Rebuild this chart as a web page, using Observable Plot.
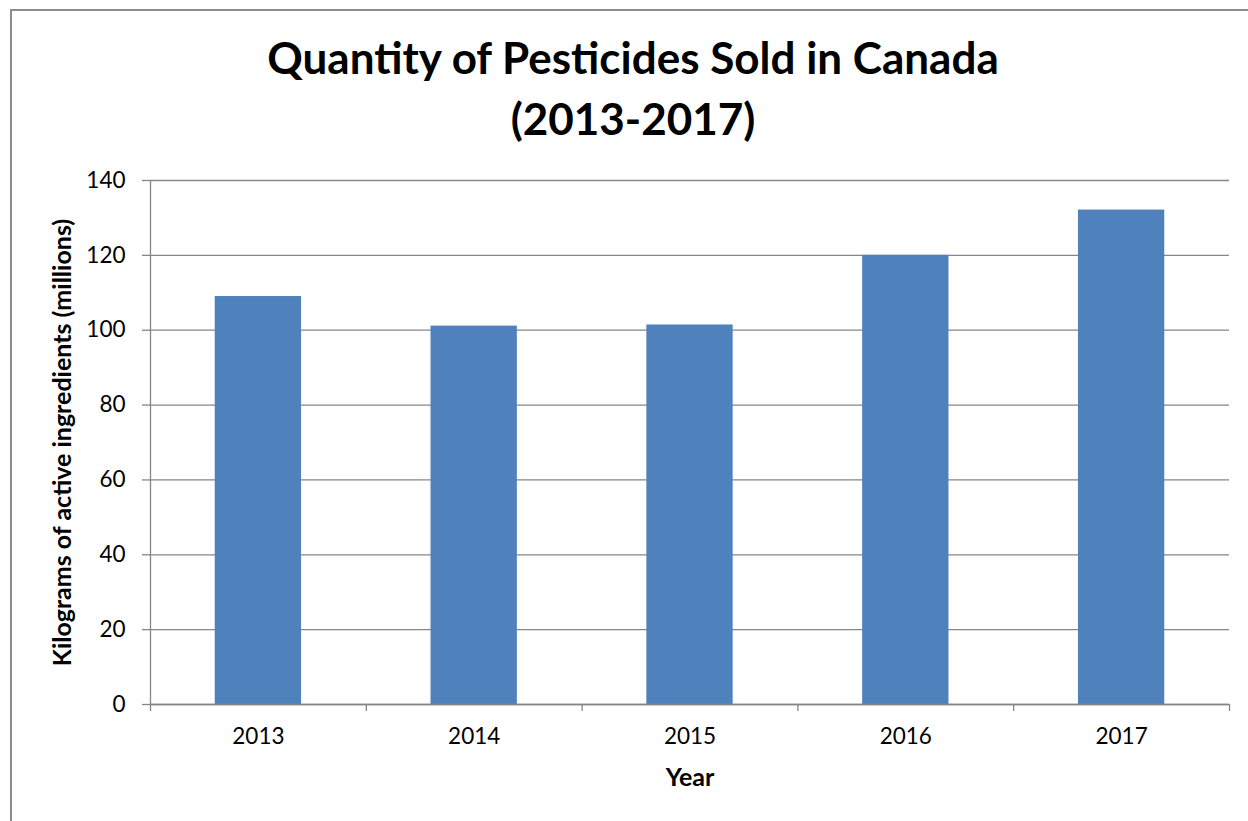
<!DOCTYPE html>
<html>
<head>
<meta charset="utf-8">
<script src="https://cdn.jsdelivr.net/npm/d3@7"></script>
<script src="https://cdn.jsdelivr.net/npm/@observablehq/plot@0.6"></script>
<style>
  html, body { margin: 0; padding: 0; background: #fff; }
  #wrap { position: relative; width: 1248px; height: 821px; overflow: hidden; font-family: Lato, "Open Sans", sans-serif; }
  #frame { position: absolute; left: 10px; top: 9px; width: 1260px; height: 840px; border: 2px solid #8c8c8c; box-sizing: border-box; }
  .title { position: absolute; left: 18px; width: 1230px; text-align: center; font-weight: 700; font-size: 44px; line-height: 1.2; color: #000; }
  #chart { position: absolute; left: 0; top: 0; }
</style>
</head>
<body>
<div id="wrap">
  <div id="frame"></div>
  <div class="title" style="top:31px">Quantity of Pesticides Sold in Canada</div>
  <div class="title" style="top:92px">(2013-2017)</div>
  <div id="chart"></div>
</div>
<script>
const years = [2013, 2014, 2015, 2016, 2017];
const values = [109.0, 101.1, 101.4, 120.0, 132.1];
const yTicks = [0, 20, 40, 60, 80, 100, 120, 140];
const categoryEdges = [2012.5, 2013.5, 2014.5, 2015.5, 2016.5, 2017.5];
const yLabel = "Kilograms of active ingredients (millions)";
const xLabel = "Year";

const data = years.map((year, i) => ({year, value: values[i]}));
const halfBar = 0.2;
const gray = "#868686";

const plot = Plot.plot({
  width: 1248,
  height: 821,
  marginLeft: 150,
  marginRight: 19,
  marginTop: 180,
  marginBottom: 117,
  style: {fontFamily: "Lato, 'Open Sans', sans-serif", color: "#000", background: "transparent"},
  x: {type: "linear", domain: [categoryEdges[0], categoryEdges[categoryEdges.length - 1]]},
  y: {domain: [0, 140]},
  marks: [
    Plot.gridY(yTicks, {stroke: gray, strokeOpacity: 1, strokeWidth: 1.3}),
    Plot.rectY(data, {x1: d => d.year - halfBar, x2: d => d.year + halfBar, y1: 0, y2: "value", fill: "#4f81bd"}),
    Plot.ruleY([0], {stroke: gray, strokeWidth: 1.3}),
    Plot.ruleX([categoryEdges[0]], {stroke: gray, strokeWidth: 1.3}),
    Plot.axisY({ticks: yTicks, tickSize: 8, tickPadding: 17, stroke: gray, strokeWidth: 1.3, fontSize: 22.5, fill: "#000", label: null}),
    Plot.axisX({ticks: categoryEdges, tickSize: 7, tickFormat: () => "", stroke: gray, strokeWidth: 1.3, label: null}),
    Plot.axisX({ticks: years, tickSize: 0, tickPadding: 24, tickFormat: d => String(d), fontSize: 22.5, fill: "#000", label: null}),
    Plot.text([yLabel], {frameAnchor: "left", textAnchor: "middle", rotate: -90, dx: -88, fontWeight: "bold", fontSize: 25, fill: "#000"}),
    Plot.text([xLabel], {frameAnchor: "bottom", textAnchor: "middle", dy: 81, fontWeight: "bold", fontSize: 25, fill: "#000"})
  ]
});
document.getElementById("chart").appendChild(plot);
</script>
</body>
</html>
